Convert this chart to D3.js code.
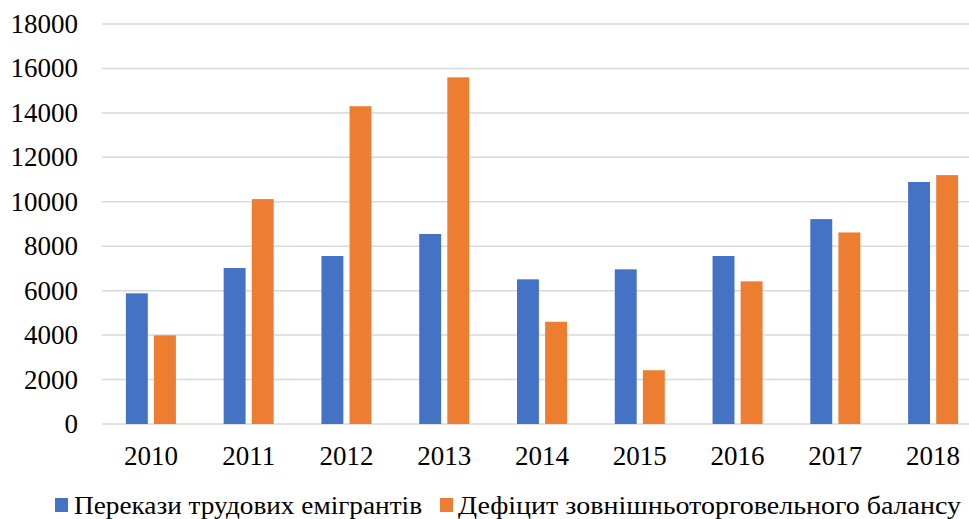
<!DOCTYPE html>
<html lang="uk">
<head>
<meta charset="utf-8" />
<title>Chart</title>
<script src="https://d3js.org/d3.v7.min.js"></script>
<style>
  body { margin: 0; background: #fff; }
  text { font-family: "Liberation Serif", "Times New Roman", serif; fill: #000; }
</style>
</head>
<body>
<div id="chart"></div>
<script>
const years = ['2010', '2011', '2012', '2013', '2014', '2015', '2016', '2017', '2018'];
const remittances = [5880, 7020, 7560, 8550, 6510, 6960, 7560, 9220, 10890];
const tradeDeficit = [3990, 10120, 14300, 15600, 4600, 2420, 6420, 8620, 11200];
const seriesNames = ['Перекази трудових емігрантів', 'Дефіцит зовнішньоторговельного балансу'];
const yTicks = [0, 2000, 4000, 6000, 8000, 10000, 12000, 14000, 16000, 18000];

const W = 969, H = 519;
const colors = ['#4472C4', '#ED7D31'];

const svg = d3.select('#chart').append('svg')
  .attr('width', W)
  .attr('height', H);

// plot area runs past the right edge, like the cropped original
const x = d3.scaleBand().domain(years).range([102, 982]);
const y = d3.scaleLinear().domain([0, 18000]).range([424, 24]);

// gridlines
svg.append('g')
  .selectAll('line')
  .data(yTicks)
  .join('line')
    .attr('x1', 102)
    .attr('x2', 982)
    .attr('y1', d => y(d))
    .attr('y2', d => y(d))
    .attr('stroke', '#d9d9d9')
    .attr('stroke-width', 1.5);

// y labels
svg.append('g')
  .selectAll('text')
  .data(yTicks)
  .join('text')
    .attr('x', 78)
    .attr('y', d => y(d) + 9)
    .attr('text-anchor', 'end')
    .style('font-size', '27px')
    .text(d => d);

// bars
const inner = d3.scaleBand().domain([0, 1]).range([-25, 25]).paddingInner(0.22);
const groups = svg.append('g')
  .selectAll('g')
  .data(years)
  .join('g')
    .attr('transform', d => `translate(${x(d) + x.bandwidth() / 2},0)`);

groups.selectAll('rect')
  .data((d, i) => [remittances[i], tradeDeficit[i]])
  .join('rect')
    .attr('x', (d, j) => inner(j))
    .attr('width', inner.bandwidth())
    .attr('y', d => y(d))
    .attr('height', d => y(0) - y(d))
    .attr('fill', (d, j) => colors[j]);

// x labels
svg.append('g')
  .selectAll('text')
  .data(years)
  .join('text')
    .attr('x', d => x(d) + x.bandwidth() / 2)
    .attr('y', 465)
    .attr('text-anchor', 'middle')
    .style('font-size', '27px')
    .text(d => d);

// legend
const legendItems = [
  { sx: 55, tx: 74, tw: 348 },
  { sx: 440, tx: 458, tw: 503 }
];
const legend = svg.append('g')
  .selectAll('g')
  .data(seriesNames)
  .join('g');

legend.append('rect')
  .attr('x', (d, i) => legendItems[i].sx)
  .attr('y', 498)
  .attr('width', 13)
  .attr('height', 14)
  .attr('fill', (d, i) => colors[i]);

legend.append('text')
  .attr('x', (d, i) => legendItems[i].tx)
  .attr('y', 514)
  .attr('textLength', (d, i) => legendItems[i].tw)
  .attr('lengthAdjust', 'spacingAndGlyphs')
  .style('font-size', '26px')
  .text(d => d);
</script>
</body>
</html>
